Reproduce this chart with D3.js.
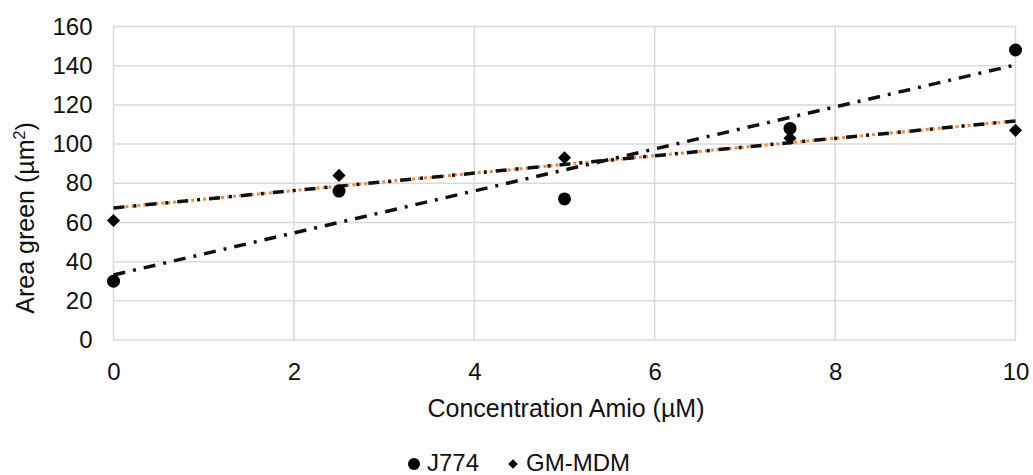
<!DOCTYPE html>
<html>
<head>
<meta charset="utf-8">
<script src="https://cdn.jsdelivr.net/npm/d3@7"></script>
<style>
  html, body { margin: 0; padding: 0; background: #fff; }
  svg { display: block; font-family: "Liberation Sans", Arial, sans-serif; }
</style>
</head>
<body>
<svg id="chart" width="1033" height="475"></svg>
<script>
// ---- data ----
const concentrations = [0, 2.5, 5, 7.5, 10];
const j774 = [30, 76, 72, 108, 148];
const gmMdm = [61, 84, 93, 103, 107];
const xTicks = [0, 2, 4, 6, 8, 10];
const yTicks = [0, 20, 40, 60, 80, 100, 120, 140, 160];
const seriesNames = ["J774", "GM-MDM"];

const svg = d3.select("#chart");
const margin = { left: 113.5, right: 1015.5, top: 26.5, bottom: 340 };

const x = d3.scaleLinear().domain([0, 10]).range([margin.left, margin.right]);
const y = d3.scaleLinear().domain([0, 160]).range([margin.bottom, margin.top]);

// gridlines
const grid = svg.append("g");
grid.selectAll("line.h").data(yTicks).join("line")
  .attr("x1", x(0)).attr("x2", x(10))
  .attr("y1", d => y(d)).attr("y2", d => y(d))
  .attr("stroke", "#d9d9d9").attr("stroke-width", 1.5);
grid.selectAll("line.v").data(xTicks).join("line")
  .attr("y1", y(0)).attr("y2", y(160))
  .attr("x1", d => x(d)).attr("x2", d => x(d))
  .attr("stroke", "#d9d9d9").attr("stroke-width", 1.5);

// axes (labels only)
const yAxis = svg.append("g").attr("transform", `translate(${margin.left},0)`)
  .call(d3.axisLeft(y).tickValues(yTicks).tickSize(0).tickPadding(21));
const xAxis = svg.append("g").attr("transform", `translate(0,${margin.bottom})`)
  .call(d3.axisBottom(x).tickValues(xTicks).tickSize(0).tickPadding(23));
[yAxis, xAxis].forEach(a => {
  a.select(".domain").remove();
  a.selectAll("text").attr("font-size", 24).attr("fill", "#111")
    .attr("font-family", "'Liberation Sans', Arial, sans-serif");
});

// axis titles
svg.append("text")
  .attr("transform", `translate(34,218) rotate(-90)`)
  .attr("text-anchor", "middle").attr("font-size", 25).attr("fill", "#111")
  .html('Area green (µm<tspan dy="-9" font-size="16">2</tspan><tspan dy="9">)</tspan>');
svg.append("text")
  .attr("x", 566).attr("y", 417)
  .attr("text-anchor", "middle").attr("font-size", 25).attr("fill", "#111")
  .text("Concentration Amio (µM)");

// linear trendlines
function fit(xs, ys) {
  const n = xs.length;
  const mx = d3.mean(xs), my = d3.mean(ys);
  let sxy = 0, sxx = 0;
  for (let i = 0; i < n; i++) { sxy += (xs[i] - mx) * (ys[i] - my); sxx += (xs[i] - mx) ** 2; }
  const b = sxy / sxx, a = my - b * mx;
  return t => a + b * t;
}
const fJ = fit(concentrations, j774);
const fG = fit(concentrations, gmMdm);
const ends = [0, 10];
const lineGen = f => d3.line().x(d => x(d)).y(d => y(f(d)));

// GM-MDM trendline: orange dotted with black dashes
svg.append("path").datum(ends).attr("d", lineGen(fG))
  .attr("fill", "none").attr("stroke", "#f4883c").attr("stroke-width", 3)
  .attr("stroke-dasharray", "3,3");
svg.append("path").datum(ends).attr("d", lineGen(fG))
  .attr("fill", "none").attr("stroke", "#111").attr("stroke-width", 3.5)
  .attr("stroke-dasharray", "11,9,3,9");

// J774 trendline: black dash-dot
svg.append("path").datum(ends).attr("d", lineGen(fJ))
  .attr("fill", "none").attr("stroke", "#111").attr("stroke-width", 3.5)
  .attr("stroke-dasharray", "12,8,3,8");

// markers
svg.append("g").selectAll("circle").data(concentrations).join("circle")
  .attr("cx", d => x(d)).attr("cy", (d, i) => y(j774[i])).attr("r", 6.5)
  .attr("fill", "#000");
const diamond = d3.symbol().type(d3.symbolDiamond2).size(110);
svg.append("g").selectAll("path").data(concentrations).join("path")
  .attr("d", diamond)
  .attr("transform", (d, i) => `translate(${x(d)},${y(gmMdm[i])})`)
  .attr("fill", "#000");

// legend
const lg = svg.append("g");
lg.append("circle").attr("cx", 414).attr("cy", 464).attr("r", 6).attr("fill", "#000");
lg.append("text").attr("x", 427).attr("y", 471).attr("font-size", 24).attr("fill", "#111").text(seriesNames[0]);
lg.append("path").attr("d", d3.symbol().type(d3.symbolDiamond2).size(60))
  .attr("transform", "translate(513,464)").attr("fill", "#000");
lg.append("text").attr("x", 526).attr("y", 471).attr("font-size", 24).attr("fill", "#111").text(seriesNames[1]);
</script>
</body>
</html>
